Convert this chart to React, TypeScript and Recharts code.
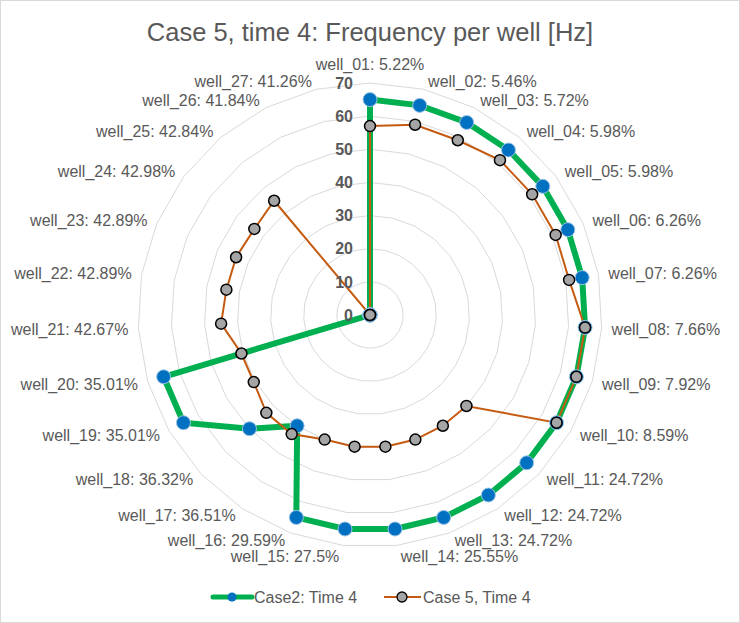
import React from "react";
import {
  RadarChart,
  Radar,
  PolarGrid,
  PolarAngleAxis,
  PolarRadiusAxis,
  Legend,
} from "recharts";

const wells = [
  "well_01: 5.22%",
  "well_02: 5.46%",
  "well_03: 5.72%",
  "well_04: 5.98%",
  "well_05: 5.98%",
  "well_06: 6.26%",
  "well_07: 6.26%",
  "well_08: 7.66%",
  "well_09: 7.92%",
  "well_10: 8.59%",
  "well_11: 24.72%",
  "well_12: 24.72%",
  "well_13: 24.72%",
  "well_14: 25.55%",
  "well_15: 27.5%",
  "well_16: 29.59%",
  "well_17: 36.51%",
  "well_18: 36.32%",
  "well_19: 35.01%",
  "well_20: 35.01%",
  "well_21: 42.67%",
  "well_22: 42.89%",
  "well_23: 42.89%",
  "well_24: 42.98%",
  "well_25: 42.84%",
  "well_26: 41.84%",
  "well_27: 41.26%",
];

const case2Time4 = [
  65, 65, 65, 65, 65, 65, 65, 65, 65, 65, 65, 65, 65, 65, 65, 65, 40, 50, 65, 65,
  0, 0, 0, 0, 0, 0, 0,
];

const case5Time4 = [
  57, 59, 59, 61, 61, 61, 61, 65, 65, 65, 40, 40, 40, 40, 40, 40, 43, 43, 40.5,
  40.5, 45, 44, 44, 43.5, 45, 0, 0,
];

const radiusTicks = [0, 10, 20, 30, 40, 50, 60, 70];

const data = wells.map((well, i) => ({
  well,
  case2: case2Time4[i],
  case5: case5Time4[i],
}));

const W = 740;
const H = 623;
const CX = 370;
const CY = 315;
const R = 232;
const TEXT = "#595959";
const FONT = "Arial, 'Liberation Sans', sans-serif";

const GREEN = "#00B050";
const BLUE = "#0070C0";
const ORANGE = "#C55A11";
const GRAY = "#A5A5A5";

// category labels sit just outside the outer ring, left/right aligned like Excel
function WellTick(props: any) {
  const { index, payload } = props;
  const theta = (index * 2 * Math.PI) / wells.length;
  const s = Math.sin(theta);
  const c = Math.cos(theta);
  const rx = CX + R * s;
  const ry = CY - R * c;
  let anchor: "start" | "end" | "middle" = "middle";
  let dx = 0;
  let dy = -8 * c;
  // the two labels nearest the bottom get a little extra room
  if (c < -0.98) dy = 10.5;
  if (index === 0) {
    dy = -19;
  } else if (s > 0) {
    anchor = "start";
    dx = 3 + 7 * Math.abs(s);
  } else {
    anchor = "end";
    dx = -(3 + 7 * Math.abs(s));
  }
  return (
    <text
      x={rx + dx}
      y={ry + dy}
      dy="0.36em"
      textAnchor={anchor}
      fill={TEXT}
      fontSize={16}
      fontFamily={FONT}
    >
      {payload.value}
    </text>
  );
}

function RadiusTick(props: any) {
  const { x, y, payload } = props;
  return (
    <text
      x={x - 17}
      y={y}
      dy="0.36em"
      textAnchor="end"
      fill={TEXT}
      fontSize={16}
      fontWeight="bold"
      fontFamily={FONT}
    >
      {payload.value}
    </text>
  );
}

function LegendBox() {
  return (
    <svg width={W} height={24} style={{ display: "block" }}>
      <line x1={213} y1={12} x2={252} y2={12} stroke={GREEN} strokeWidth={5} strokeLinecap="round" />
      <circle cx={232} cy={12} r={4.5} fill={BLUE} />
      <text x={254} y={12} dy="0.36em" fill={TEXT} fontSize={16} fontFamily={FONT}>
        Case2: Time 4
      </text>
      <line x1={384} y1={12} x2={421} y2={12} stroke={ORANGE} strokeWidth={2} />
      <circle cx={402} cy={12} r={5} fill={GRAY} stroke="#000" strokeWidth={1.3} />
      <text x={423} y={12} dy="0.36em" fill={TEXT} fontSize={16} fontFamily={FONT}>
        Case 5, Time 4
      </text>
    </svg>
  );
}

export default function App() {
  return (
    <div style={{ position: "absolute", left: 0, top: 0, width: W, height: H, background: "#fff" }}>
      <div
        style={{
          position: "absolute",
          left: 0,
          top: 0,
          width: W,
          height: H,
          border: "1px solid #D9D9D9",
          boxSizing: "border-box",
        }}
      />
      <div
        style={{
          position: "absolute",
          left: 0,
          top: 16,
          width: W,
          textAlign: "center",
          fontFamily: FONT,
          fontSize: 25.5,
          color: TEXT,
          lineHeight: "32px",
        }}
      >
        Case 5, time 4: Frequency per well [Hz]
      </div>
      <RadarChart
        width={W}
        height={H}
        data={data}
        cx={CX}
        cy={CY}
        outerRadius={R}
        margin={{ top: 0, right: 0, bottom: 0, left: 0 }}
        style={{ position: "absolute", left: 0, top: 0 }}
      >
        <PolarGrid gridType="polygon" radialLines={false} stroke="#D9D9D9" strokeWidth={1} />
        <PolarAngleAxis dataKey="well" tick={<WellTick />} tickLine={false} axisLine={false} />
        <PolarRadiusAxis
          angle={90}
          domain={[0, 70]}
          ticks={radiusTicks}
          tickCount={8}
          axisLine={false}
          tickLine={false}
          tick={<RadiusTick />}
        />
        <Radar
          name="Case2: Time 4"
          dataKey="case2"
          stroke={GREEN}
          strokeWidth={6}
          fill="none"
          fillOpacity={0}
          isAnimationActive={false}
          dot={(p: any) => (
            <circle key={`g${p.index}`} cx={p.cx} cy={p.cy} r={7} fill={BLUE} stroke="#9DC3E6" strokeWidth={1} />
          )}
        />
        <Radar
          name="Case 5, Time 4"
          dataKey="case5"
          stroke={ORANGE}
          strokeWidth={2}
          fill="none"
          fillOpacity={0}
          isAnimationActive={false}
          dot={(p: any) => (
            <circle key={`o${p.index}`} cx={p.cx} cy={p.cy} r={5.5} fill={GRAY} stroke="#000" strokeWidth={1.5} />
          )}
        />
        <Legend
          content={() => <LegendBox />}
          wrapperStyle={{ position: "absolute", left: 0, top: 585, width: W }}
        />
      </RadarChart>
    </div>
  );
}
